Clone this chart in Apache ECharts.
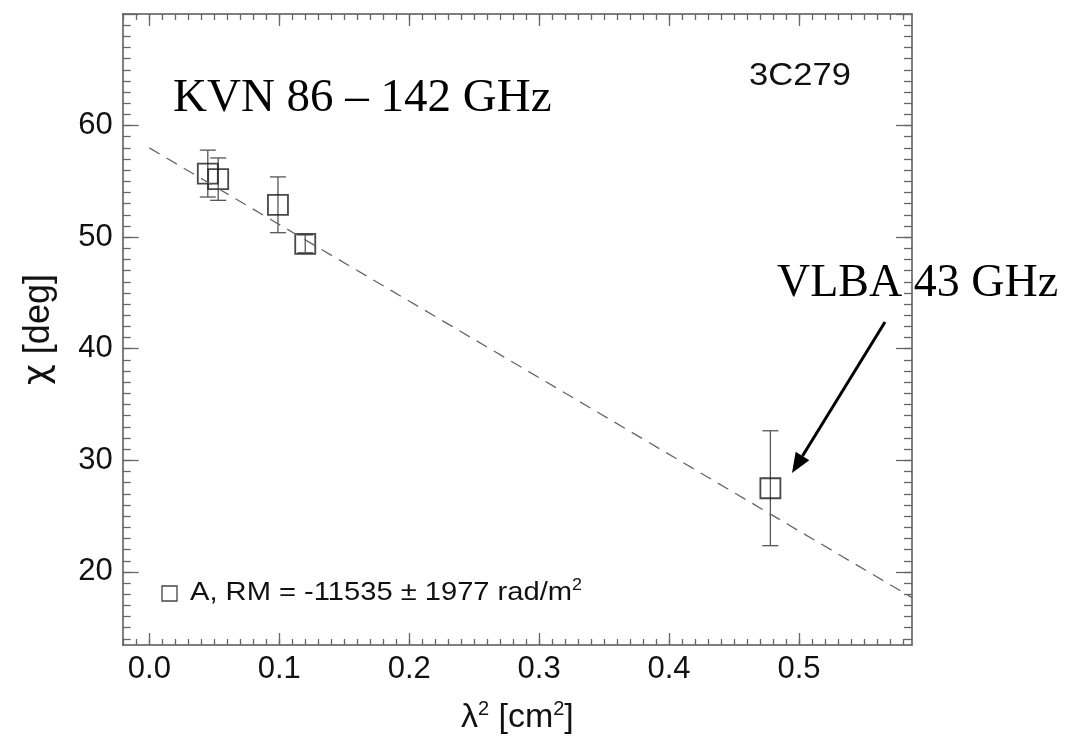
<!DOCTYPE html>
<html>
<head>
<meta charset="utf-8">
<script src="https://cdn.jsdelivr.net/npm/echarts@6/dist/echarts.min.js"></script>
<style>
html,body{margin:0;padding:0;background:#fff;}
#chart{width:1068px;height:741px;}
</style>
</head>
<body>
<div id="chart"></div>
<script>
// ---- data ----
const lambda2 = [0.045, 0.053, 0.099, 0.120, 0.478];   // λ² [cm²]
const chi     = [55.7, 55.2, 52.9, 49.4, 27.5];        // χ [deg]
const chiErr  = [2.1, 1.9, 2.5, 0.8, 5.15];            // ± error
const fitX    = [0.0, 0.587];                           // fitted line ends
const fitY    = [58.0, 17.7];
const xTicks  = [0.0, 0.1, 0.2, 0.3, 0.4, 0.5];
const yTicks  = [20, 30, 40, 50, 60, 70];
const yLabels = [20, 30, 40, 50, 60];
const XMIN = -0.0205, XMAX = 0.587, YMIN = 13.45, YMAX = 70;

// minor ticks
const xMinor = []; for (let i = -2; i <= 58; i++) xMinor.push(+(i*0.01).toFixed(2));
const yMinor = []; for (let v = 14; v <= 69; v++) yMinor.push(v);

const AX = '#555', TK = '#666', FONT = '"Liberation Sans", Arial, Helvetica, sans-serif';
const SERIF = '"Liberation Serif", "Times New Roman", serif';

function xAx(pos, major, labels){
  return {
    type:'value', position:pos, min:XMIN, max:XMAX, gridIndex:0,
    axisLine:{show:major, onZero:false, lineStyle:{color:AX, width:1.5}},
    axisTick:{show:true, inside:true, length: major?12:6, customValues: major?xTicks:xMinor, lineStyle:{color:TK, width:1.3}},
    axisLabel:{show:labels, customValues:xTicks, formatter:v=>v.toFixed(1), fontSize:31, fontFamily:FONT, color:'#111', margin:9},
    splitLine:{show:false}, minorTick:{show:false}
  };
}
function yAx(pos, major, labels){
  return {
    type:'value', position:pos, min:YMIN, max:YMAX, gridIndex:0,
    axisLine:{show:major, onZero:false, lineStyle:{color:AX, width:1.5}},
    axisTick:{show:true, inside:true, length: major?16:8, customValues: major?yTicks:yMinor, lineStyle:{color:TK, width:1.3}},
    axisLabel:{show:labels, customValues:yLabels, formatter:v=>String(v), fontSize:31, fontFamily:FONT, color:'#111', margin:10},
    splitLine:{show:false}, minorTick:{show:false}
  };
}

const xa0 = xAx('bottom', true, true);
xa0.name = '{a|λ}{s|2}{a| [cm}{s|2}{a|]}';
xa0.nameLocation = 'middle';
xa0.nameGap = 54;
xa0.nameTextStyle = {rich:{a:{fontSize:34, fontFamily:FONT, color:'#111'}, s:{fontSize:20, fontFamily:FONT, color:'#111', verticalAlign:'top', padding:[0,0,18,0]}}};

const ya0 = yAx('left', true, true);
ya0.name = '{c|χ}{a| [deg]}';
ya0.nameLocation = 'middle';
ya0.nameGap = 66;
ya0.nameTextStyle = {rich:{a:{fontSize:36, fontFamily:FONT, color:'#111'}, c:{fontSize:36, fontFamily:'"DejaVu Sans", sans-serif', color:'#111'}}};

const chart = echarts.init(document.getElementById('chart'), null, {renderer:'canvas'});

const errData = lambda2.map((x,i)=>[x, chi[i]-chiErr[i], chi[i]+chiErr[i]]);
const ptData = lambda2.map((x,i)=>[x, chi[i]]);
const fitData = fitX.map((x,i)=>[x, fitY[i]]);

// arrow geometry (annotation)
const aS = [885, 322], aT = [792, 473];
const dx = aT[0]-aS[0], dy = aT[1]-aS[1], L = Math.hypot(dx,dy), ux = dx/L, uy = dy/L;
const HL = 20, HW = 8;
const bc = [aT[0]-HL*ux, aT[1]-HL*uy];
const head = [[aT[0],aT[1]], [bc[0]+HW*(-uy), bc[1]+HW*ux], [bc[0]-HW*(-uy), bc[1]-HW*ux]];

chart.setOption({
  animation:false,
  backgroundColor:'#fff',
  grid:{left:122.7, right:156, top:14, bottom:96, containLabel:false},
  xAxis:[xa0, xAx('bottom', false, false), xAx('top', true, false), xAx('top', false, false)],
  yAxis:[ya0, yAx('left', false, false), yAx('right', true, false), yAx('right', false, false)],
  series:[
    {type:'line', data:fitData, xAxisIndex:0, yAxisIndex:0, symbol:'none',
     lineStyle:{color:'#666', width:1.3, type:[12,8]}, silent:true},
    {type:'custom', data:errData, xAxisIndex:0, yAxisIndex:0,
     renderItem:function(params, api){
       const x = api.value(0);
       const p1 = api.coord([x, api.value(2)]);
       const p2 = api.coord([x, api.value(1)]);
       const w = 8, st = {stroke:'#555', lineWidth:1.3};
       return {type:'group', children:[
         {type:'line', shape:{x1:p1[0], y1:p1[1], x2:p2[0], y2:p2[1]}, style:st},
         {type:'line', shape:{x1:p1[0]-w, y1:p1[1], x2:p1[0]+w, y2:p1[1]}, style:st},
         {type:'line', shape:{x1:p2[0]-w, y1:p2[1], x2:p2[0]+w, y2:p2[1]}, style:st}
       ]};
     }},
    {type:'scatter', data:ptData, xAxisIndex:0, yAxisIndex:0, symbol:'rect', symbolSize:20,
     itemStyle:{color:'rgba(0,0,0,0)', borderColor:'#1a1a1a', borderWidth:1.8}}
  ],
  graphic:[
    {type:'text', left:173, top:75, style:{text:'KVN 86 – 142 GHz', font:'47px '+SERIF, fill:'#000'}},
    {type:'text', left:777, top:261, style:{text:'VLBA 43 GHz', font:'46px '+SERIF, fill:'#000'}},
    {type:'text', x:800, y:76, style:{text:'3C279', font:'32px '+FONT, fill:'#111', align:'center', verticalAlign:'middle'}, scaleX:1.08, originX:0},
    {type:'line', shape:{x1:aS[0], y1:aS[1], x2:bc[0], y2:bc[1]}, style:{stroke:'#000', lineWidth:3}},
    {type:'polygon', shape:{points:head}, style:{fill:'#000'}},
    {type:'rect', shape:{x:162, y:586, width:15, height:15}, style:{fill:'none', stroke:'#444', lineWidth:1.3}},
    {type:'text', x:190, y:593, style:{
       text:'{a|A, RM = -11535 ± 1977 rad/m}{s|2}',
       rich:{a:{fontSize:26, fontFamily:FONT, fill:'#111'}, s:{fontSize:16, fontFamily:FONT, fill:'#111', padding:[0,0,14,0]}},
       verticalAlign:'middle'}, scaleX:1.12, originX:0}
  ]
});
</script>
</body>
</html>
